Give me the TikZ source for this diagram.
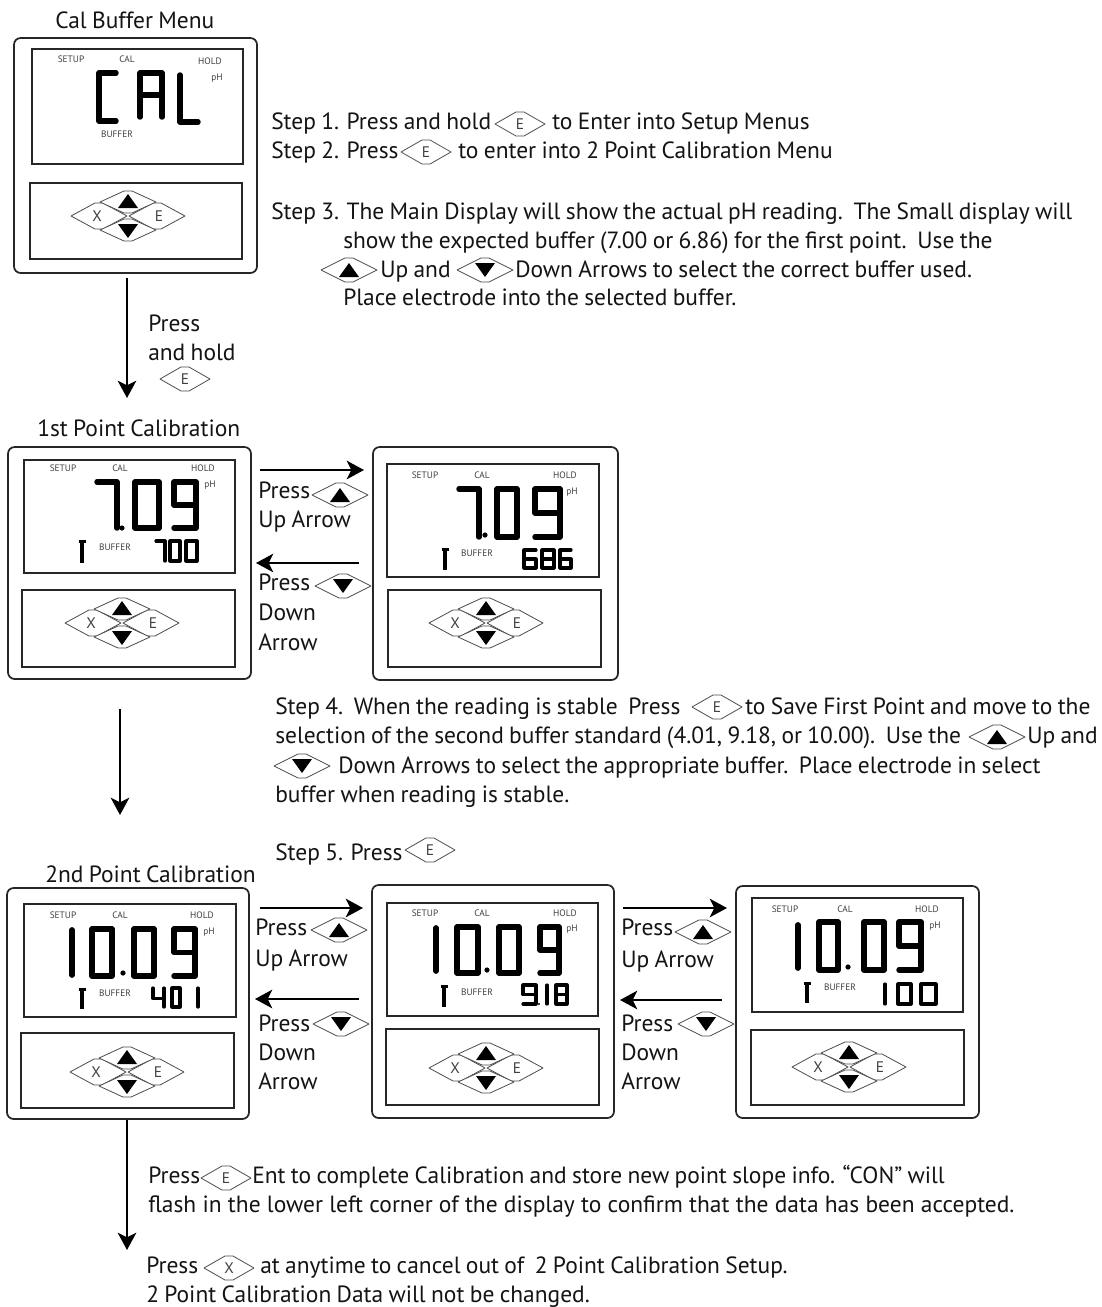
\documentclass[tikz,border=0pt]{standalone}
\usepackage{fontspec}
\setmainfont{PT Sans}[WordSpace=0.85]
\usetikzlibrary{arrows.meta}
\newcount\nodecnt
\def\mainsize{\fontsize{17.6}{20}\selectfont}
\def\tinysize{\fontsize{7}{8}\selectfont}
\tikzset{
  flowarrow/.style={draw=black,line width=1.35pt,-{Stealth[length=13pt,width=14pt,inset=3.5pt]}},
  outerbox/.style={draw=black!85,line width=1.3pt,rounded corners=5pt},
  innerbox/.style={draw=black!85,line width=1.1pt},
  keyline/.style={draw=black!70,line width=0.6pt,line join=round},
  txtlab/.style={anchor=base west,inner sep=0pt,text=black!92,font=\mainsize},
  tinylab/.style={anchor=center,inner sep=0pt,text=black!75,font=\tinysize},
  seg/.style={draw=black,line join=round,line cap=round}
}
% text helpers
\newcommand{\lab}[3]{\global\advance\nodecnt by 1 \node[txtlab] (n\the\nodecnt) at (#1,#2) {#3};}
\newcommand{\tin}[3]{\global\advance\nodecnt by 1 \node[tinylab] (n\the\nodecnt) at (#1,#2) {#3};}
% digit outlines in a unit box
\def\dZero{(0,0) -- (1,0) -- (1,1) -- (0,1) -- cycle}
\def\dOne{(1,0) -- (1,1)}
\def\dFour{(0,0) -- (0,.55) -- (1,.55) (1,0) -- (1,1)}
\def\dSix{(1,0) -- (0,0) -- (0,1) -- (1,1) -- (1,.5) -- (0,.5)}
\def\dSeven{(0,0) -- (1,0) -- (1,1)}
\def\dEight{(0,0) -- (1,0) -- (1,1) -- (0,1) -- cycle (0,.5) -- (1,.5)}
\def\dNine{(1,.5) -- (0,.5) -- (0,0) -- (1,0) -- (1,1) -- (0,1)}
\def\dC{(1,0) -- (0,0) -- (0,1) -- (1,1)}
\def\dA{(0,1) -- (0,0) -- (1,0) -- (1,1) (0,.5) -- (1,.5)}
\def\dL{(0,0) -- (0,1) -- (1,1)}
% \dg{shape}{x0}{y0}{w}{h}{linewidth pt}
\newcommand{\dg}[6]{\draw[seg,line width=#6pt,shift={(#2,#3)},xscale=#4,yscale=#5] #1;}
\newcommand{\pointdot}[3]{\fill[black] (#1,#2) circle[radius=#3];}
% small keys
\newcommand{\keyshape}[4]{\draw[keyline,fill=white] (#1-#3,#2) -- (#1-4,#2-#4) -- (#1+4,#2-#4) -- (#1+#3,#2) -- (#1+4,#2+#4) -- (#1-4,#2+#4) -- cycle;}
\newcommand{\keyletter}[3]{\global\advance\nodecnt by 1 \node[anchor=center,inner sep=0pt,text=black!75,font=\fontsize{11.5}{12}\selectfont] (n\the\nodecnt) at (#1,#2) {#3};}
\newcommand{\upTri}[2]{\fill[black] (#1-10,#2+7) -- (#1,#2-7) -- (#1+10,#2+7) -- cycle;}
\newcommand{\dnTri}[2]{\fill[black] (#1-10,#2-7) -- (#1,#2+7) -- (#1+10,#2-7) -- cycle;}
\newcommand{\iconE}[2]{\keyshape{#1}{#2}{25}{12}\keyletter{#1}{#2}{E}}
\newcommand{\iconX}[2]{\keyshape{#1}{#2}{25}{12}\keyletter{#1}{#2}{X}}
\newcommand{\iconU}[2]{\keyshape{#1}{#2}{28}{12}\upTri{#1}{#2}}
\newcommand{\iconD}[2]{\keyshape{#1}{#2}{28}{12}\dnTri{#1}{#2}}
\newcommand{\keypad}[2]{%
  \keyshape{#1-29}{#2}{28}{13}\keyletter{#1-31}{#2}{X}%
  \keyshape{#1+29}{#2}{28}{13}\keyletter{#1+31}{#2}{E}%
  \keyshape{#1}{#2-14}{28}{11}\upTri{#1}{#2-15}%
  \keyshape{#1}{#2+14}{28}{11}\dnTri{#1}{#2+15}%
}
% probe symbol
\newcommand{\probe}[3]{\draw[black,line width=2.6pt] (#1,#2+3) -- (#1,#3); \draw[black,line width=2pt] (#1-3.5,#2+1.5) -- (#1+3.5,#2+1.5);}
\newcommand{\meter}[8]{\draw[outerbox] (#1,#2) rectangle (#3,#4); \draw[innerbox] (#5,#6) rectangle (#7,#8);}
\newcommand{\padbox}[6]{\draw[innerbox] (#1,#2) rectangle (#3,#4); \keypad{#5}{#6}}
\newcommand{\lcdlabels}[8]{\tin{#1}{#2}{SETUP}\tin{#3}{#2}{CAL}\tin{#4}{#2}{HOLD}\tin{#5}{#6}{pH}\tin{#7}{#8}{BUFFER}}
\begin{document}
\begin{tikzpicture}[x=0.75pt,y=-0.75pt]
\useasboundingbox (0,0) rectangle (1102,1307);
\fill[white] (0,0) rectangle (1102,1307);

% ---------- Meter 1
\lab{55}{28}{Cal Buffer Menu}
\meter{14}{38}{257}{273}{32}{49}{243}{164}
\padbox{30}{183}{242}{259}{128}{216}
\tin{71}{59}{SETUP}\tin{127}{59}{CAL}\tin{210}{61}{HOLD}\tin{217}{78}{pH}\tin{117}{134}{BUFFER}
\dg{\dC}{99}{73}{17}{48}{4.1}
\dg{\dA}{140}{73}{22}{44}{4.1}
\dg{\dL}{180}{75}{18}{47}{4.1}

% ---------- Steps 1-3
\lab{271}{129}{Step 1. Press and hold}\iconE{520}{124}\lab{552}{129}{to Enter into Setup Menus}
\lab{271}{158}{Step 2. Press}\iconE{426}{152}\lab{458}{158}{to enter into 2 Point Calibration Menu}
\lab{271}{219}{Step 3. The Main Display will show the actual pH reading.\ \ The Small display will}
\lab{343}{248}{show the expected buffer (7.00 or 6.86) for the first point.\ \ Use the}
\iconU{349}{270}\lab{380}{277}{Up and}\iconD{485}{270}\lab{515}{277}{Down Arrows to select the correct buffer used.}
\lab{343}{305}{Place electrode into the selected buffer.}

% ---------- Arrow to 1st point
\coordinate (a1s) at (127,278); \coordinate (a1e) at (127,398);
\draw[flowarrow] (a1s) -- (a1e);
\lab{148}{331}{Press}\lab{148}{360}{and hold}\iconE{185}{379}

% ---------- Meter 2
\lab{37}{436}{1st Point Calibration}
\meter{8}{447}{251}{679}{24}{460}{235}{573}
\padbox{22}{590}{235}{667}{122}{623}
\lcdlabels{63}{468}{120}{203}{210}{485}{115}{547}
\dg{\dSeven}{97}{482}{20}{46}{4.1}
\pointdot{122}{528}{2.6}
\dg{\dZero}{135}{482}{24}{46}{4.1}
\dg{\dNine}{174}{482}{22}{46}{4.1}
\probe{82}{540}{563}
\dg{\dSeven}{156}{541}{9}{20}{2.4}
\dg{\dZero}{170}{541}{10}{20}{2.4}
\dg{\dZero}{186}{541}{11}{20}{2.4}

% arrows 2-3
\coordinate (b1s) at (260,470); \coordinate (b1e) at (364,470);
\draw[flowarrow] (b1s) -- (b1e);
\lab{258}{498}{Press}\iconU{340}{495}\lab{258}{527}{Up Arrow}
\coordinate (b2s) at (359,563); \coordinate (b2e) at (256,563);
\draw[flowarrow] (b2s) -- (b2e);
\lab{258}{590}{Press}\iconD{343}{586}\lab{258}{620}{Down}\lab{258}{650}{Arrow}

% ---------- Meter 3
\meter{373}{447}{618}{680}{387}{464}{599}{577}
\padbox{388}{590}{601}{667}{486}{623}
\lcdlabels{425}{475}{482}{565}{572}{492}{477}{553}
\dg{\dSeven}{459}{489}{20}{48}{4.1}
\pointdot{485}{535}{2.6}
\dg{\dZero}{497}{489}{20}{48}{4.1}
\dg{\dNine}{535}{489}{25}{48}{4.1}
\probe{445}{548}{570}
\dg{\dSix}{524}{550}{12}{18}{2.4}
\dg{\dEight}{542}{550}{12}{18}{2.4}
\dg{\dSix}{560}{550}{11}{18}{2.4}

% ---------- Step 4, 5
\lab{275}{714}{Step 4.\ \ When the reading is stable\ \ Press}\iconE{717}{707}\lab{745}{714}{to Save First Point and move to the}
\lab{275}{743}{selection of the second buffer standard (4.01, 9.18, or 10.00).\ \ Use the}\iconU{997}{737}\lab{1027}{743}{Up and}
\iconD{302}{766}\lab{338}{773}{Down Arrows to select the appropriate buffer.\ \ Place electrode in select}
\lab{275}{802}{buffer when reading is stable.}
\lab{275}{860}{Step 5. Press}\iconE{430}{850}
\coordinate (c1s) at (120,709); \coordinate (c1e) at (120,815);
\draw[flowarrow] (c1s) -- (c1e);

% ---------- Meter 4
\lab{45}{882}{2nd Point Calibration}
\meter{7}{888}{249}{1119}{24}{904}{236}{1017}
\padbox{21}{1033}{234}{1108}{127}{1072}
\lcdlabels{63}{915}{120}{202}{209}{932}{115}{993}
\dg{\dOne}{72}{930}{0.01}{45}{4.3}
\dg{\dZero}{92}{929}{20}{47}{4.1}
\pointdot{123}{973}{2.6}
\dg{\dZero}{134}{929}{20}{47}{4.1}
\dg{\dNine}{174}{929}{21}{47}{4.1}
\probe{82}{988}{1009}
\dg{\dFour}{153}{988}{11}{19}{2.4}
\dg{\dZero}{172}{988}{8}{19}{2.4}
\dg{\dOne}{198}{988}{0.01}{19}{2.4}

% arrows 4-5
\coordinate (d1s) at (260,908); \coordinate (d1e) at (363,908);
\draw[flowarrow] (d1s) -- (d1e);
\lab{255}{935}{Press}\iconU{339}{930}\lab{255}{966}{Up Arrow}
\coordinate (d2s) at (359,999); \coordinate (d2e) at (255,999);
\draw[flowarrow] (d2s) -- (d2e);
\lab{258}{1031}{Press}\iconD{341}{1024}\lab{258}{1060}{Down}\lab{258}{1089}{Arrow}

% ---------- Meter 5
\meter{372}{885}{614}{1118}{387}{903}{598}{1016}
\padbox{386}{1029}{599}{1105}{486}{1068}
\lcdlabels{425}{913}{482}{565}{572}{929}{477}{992}
\dg{\dOne}{436}{928}{0.01}{43}{4.3}
\dg{\dZero}{457}{927}{21}{46}{4.1}
\pointdot{487}{970}{2.6}
\dg{\dZero}{499}{927}{20}{46}{4.1}
\dg{\dNine}{540}{927}{19}{46}{4.1}
\probe{444}{985}{1007}
\dg{\dNine}{523}{985}{13}{19}{2.4}
\pointdot{539}{1004}{1.2}
\dg{\dOne}{547}{985}{0.01}{19}{2.4}
\dg{\dEight}{556}{985}{11}{19}{2.4}

% arrows 5-6
\coordinate (e1s) at (623,908); \coordinate (e1e) at (727,908);
\draw[flowarrow] (e1s) -- (e1e);
\lab{621}{935}{Press}\iconU{703}{932}\lab{621}{967}{Up Arrow}
\coordinate (e2s) at (722,1000); \coordinate (e2e) at (620,1000);
\draw[flowarrow] (e2s) -- (e2e);
\lab{621}{1031}{Press}\iconD{706}{1024}\lab{621}{1060}{Down}\lab{621}{1089}{Arrow}

% ---------- Meter 6
\meter{736}{886}{979}{1118}{752}{898}{963}{1012}
\padbox{751}{1030}{964}{1105}{849}{1067}
\lcdlabels{785}{909}{845}{927}{935}{926}{840}{987}
\dg{\dOne}{798}{925}{0.01}{43}{4.3}
\dg{\dZero}{819}{922}{19}{48}{4.1}
\pointdot{848}{967}{2.6}
\dg{\dZero}{864}{922}{20}{48}{4.1}
\dg{\dNine}{899}{922}{22}{48}{4.1}
\probe{807}{982}{1003}
\dg{\dOne}{885}{984}{0.01}{20}{2.4}
\dg{\dZero}{898}{984}{13}{20}{2.4}
\dg{\dZero}{921}{984}{15}{20}{2.4}

% ---------- Final
\coordinate (f1s) at (127,1120); \coordinate (f1e) at (127,1250);
\draw[flowarrow] (f1s) -- (f1e);
\lab{148}{1183}{Press}\iconE{226}{1178}\lab{252}{1183}{Ent to complete Calibration and store new point slope info. “CON” will}
\lab{148}{1212}{\spaceskip=4.7pt flash in the lower left corner of the display to confirm that the data has been accepted.}
\lab{146}{1273}{Press}\iconX{229}{1268}\lab{260}{1273}{at anytime to cancel out of\ \ 2 Point Calibration Setup.}
\lab{146}{1302}{2 Point Calibration Data will not be changed.}
\end{tikzpicture}
\end{document}
